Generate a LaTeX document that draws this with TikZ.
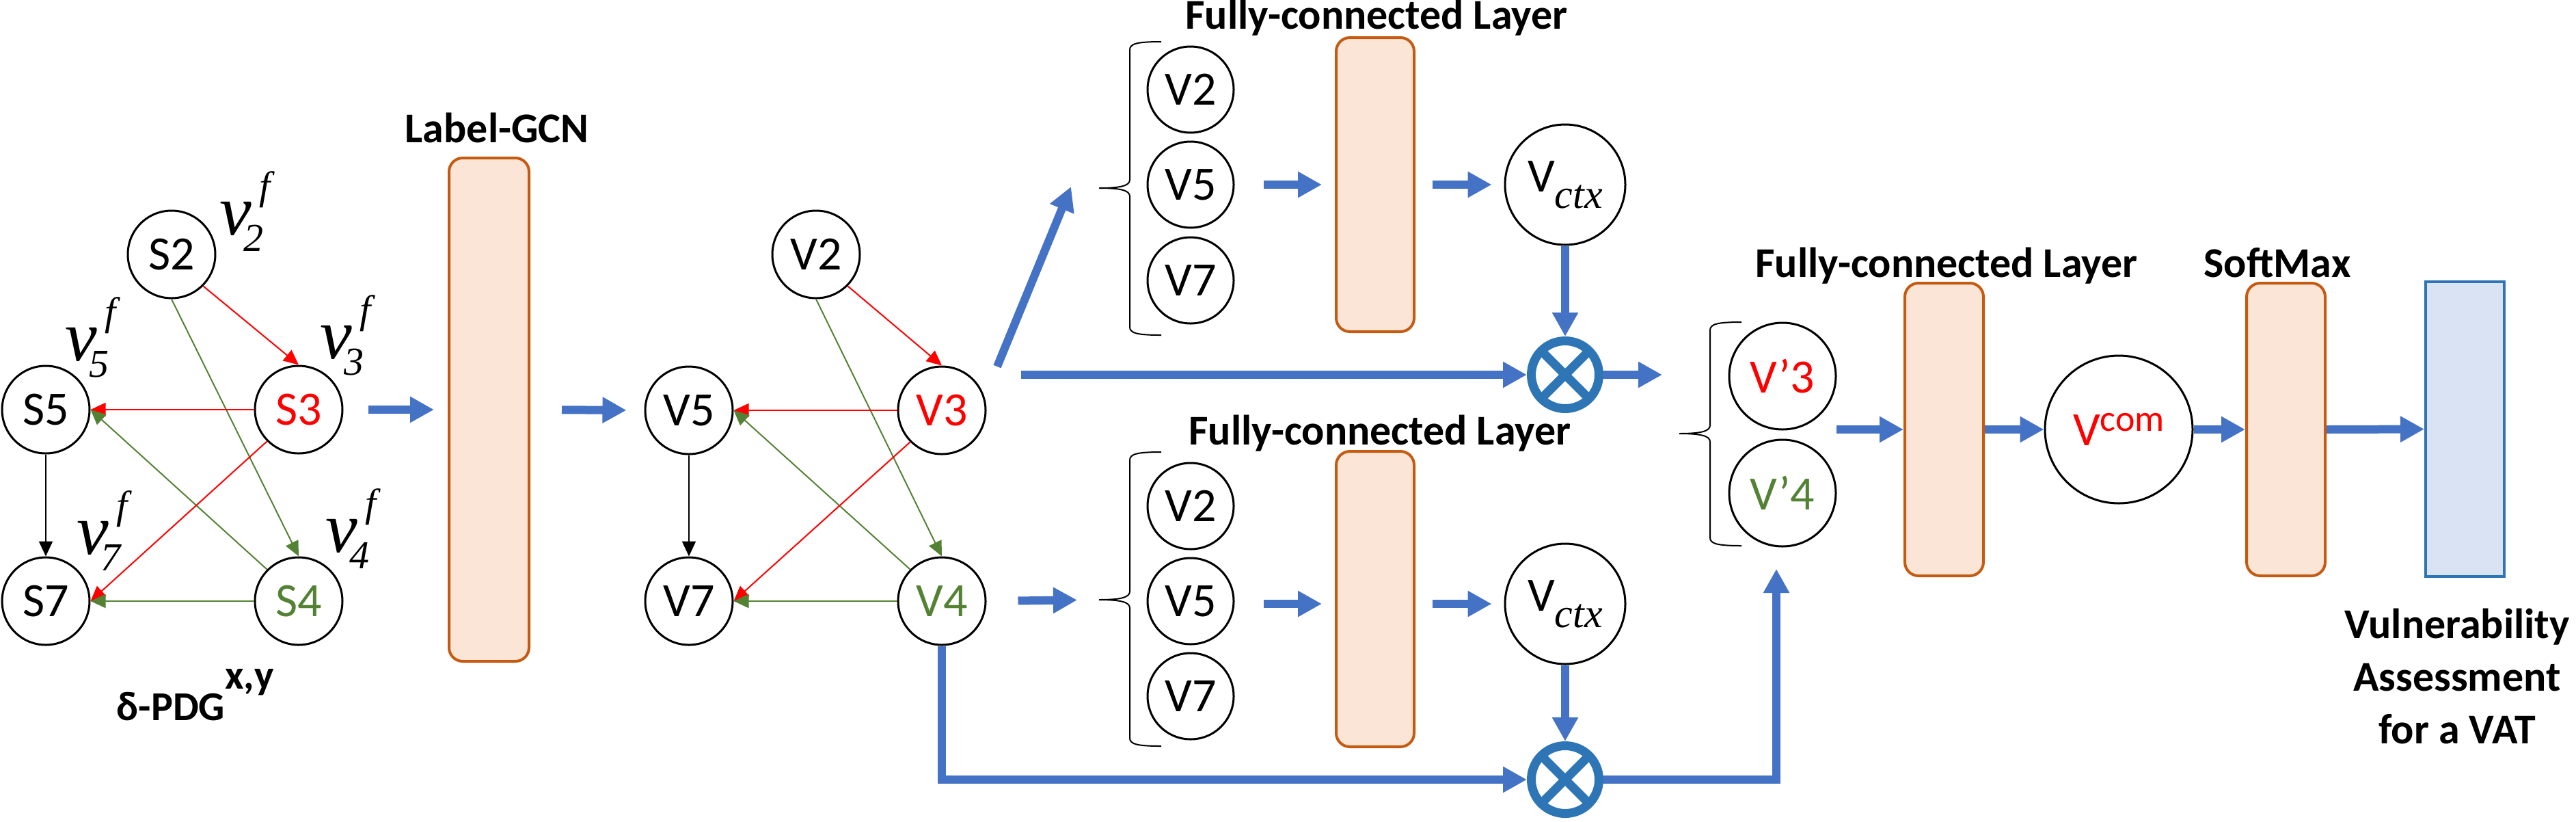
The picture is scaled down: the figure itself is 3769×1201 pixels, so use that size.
\documentclass[tikz,border=0pt]{standalone}
\usepackage{fontspec}
\setmainfont{Carlito}
\newfontfamily\tnr{Liberation Serif}
\usetikzlibrary{arrows.meta}
\definecolor{bluearr}{HTML}{4472C4}
\definecolor{oxblue}{HTML}{2E75B6}
\definecolor{peach}{HTML}{FBE5D6}
\definecolor{peachline}{HTML}{C55A11}
\definecolor{lightblue}{HTML}{DAE3F3}
\definecolor{mygreen}{HTML}{548235}
\definecolor{myred}{HTML}{FF0000}
\newcommand\vlab[1]{{\tnr\itshape\fontsize{26.25}{26.25}\selectfont v}\kern-2.9pt\rlap{\raisebox{-6pt}{\tnr\itshape\fontsize{14.5}{14.5}\selectfont #1}}\kern5.75pt\raisebox{13pt}{\tnr\itshape\fontsize{14.5}{14.5}\selectfont f}}
\newcommand\mybrace[5]{% name, tipx, tipy, top, bottom
  \coordinate (#1) at (#2,#3);
  \draw[bracestyle] ({#2+91},#4) .. controls ({#2+55},#4) and ({#2+45},{#4+3}) .. ({#2+45},{#4+12})
    -- ({#2+45},{#3-12}) .. controls ({#2+45},{#3-3}) and ({#2+30},#3) .. (#1)
    .. controls ({#2+30},#3) and ({#2+45},{#3+3}) .. ({#2+45},{#3+12})
    -- ({#2+45},{#5-12}) .. controls ({#2+45},{#5-3}) and ({#2+55},#5) .. ({#2+91},#5);}
\tikzset{
  gnode/.style={circle, draw, line width=0.75pt, minimum size=32pt, inner sep=0pt, font=\fontsize{17.5}{17.5}\selectfont},
  snode/.style={gnode, minimum size=31.5pt},
  fcbox/.style={draw=peachline, fill=peach, line width=1pt, rounded corners=5pt, inner sep=0pt},
  barrow/.style={draw=bluearr, line width=3pt, -{Triangle[length=8.75pt,width=9pt]}},
  gedge/.style={line width=0.5pt, -{Triangle[length=5.5pt,width=5pt]}},
  title/.style={font=\bfseries\fontsize{15.5}{15.5}\selectfont, inner sep=0pt, anchor=base},
  otimesnode/.style={circle, draw=oxblue, line width=3.25pt, minimum size=24.75pt, inner sep=0pt,
    path picture={\draw[oxblue, line width=3.25pt] (path picture bounding box.north west) -- (path picture bounding box.south east) (path picture bounding box.north east) -- (path picture bounding box.south west);}},
  bracestyle/.style={line width=0.5pt},
}
\begin{document}
\begin{tikzpicture}[x=0.25pt, y=-0.25pt]
\useasboundingbox (0,0) rectangle (3769,1201);

% ---- graph 1
\node[gnode] (S2) at (251,372) {S2};
\node[gnode] (S5) at (67,599) {S5};
\node[gnode, text=myred] (S3) at (437,599) {S3};
\node[gnode] (S7) at (67,879) {S7};
\node[gnode, text=mygreen] (S4) at (437,879) {S4};
\draw[gedge, myred] (S2.south east) -- (S3.north);
\draw[gedge, mygreen] (S2.south) -- (S4.north);
\draw[gedge, myred] (S3.west) -- (S5.east);
\draw[gedge, mygreen] (S4.north west) -- (S5.east);
\draw[gedge, myred] (S3.south west) -- (S7.east);
\draw[gedge, mygreen] (S4.west) -- (S7.east);
\draw[gedge] (S5.south) -- (S7.north);
\node[anchor=base west, inner sep=0pt] (l2) at (321,343) {\vlab{2}};
\node[anchor=base west, inner sep=0pt] (l5) at (95,527) {\vlab{5}};
\node[anchor=base west, inner sep=0pt] (l3) at (468,524) {\vlab{3}};
\node[anchor=base west, inner sep=0pt] (l7) at (112,810) {\vlab{7}};
\node[anchor=base west, inner sep=0pt] (l4) at (476,807) {\vlab{4}};
\node[title, anchor=base west, font=\bfseries\fontsize{15}{15}\selectfont] (tpdg) at (170,1053) {δ-PDG\raisebox{11.5pt}{x,y}};

% ---- Label-GCN
\node[fcbox, minimum width=29.25pt, minimum height=184pt] (gcn) at (715.5,599) {};
\node[title] (tgcn) at (727,208) {Label-GCN};

% ---- graph 2
\node[gnode] (G2) at (1194,372) {V2};
\node[gnode] (G5) at (1008,600) {V5};
\node[gnode, text=myred] (G3) at (1378,600) {V3};
\node[gnode] (G7) at (1008,879) {V7};
\node[gnode, text=mygreen] (G4) at (1378,879) {V4};
\draw[gedge, myred] (G2.south east) -- (G3.north);
\draw[gedge, mygreen] (G2.south) -- (G4.north);
\draw[gedge, myred] (G3.west) -- (G5.east);
\draw[gedge, mygreen] (G4.north west) -- (G5.east);
\draw[gedge, myred] (G3.south west) -- (G7.east);
\draw[gedge, mygreen] (G4.west) -- (G7.east);
\draw[gedge] (G5.south) -- (G7.north);

% ---- upper branch
\mybrace{ubt}{1608}{275}{61}{490}
\node[snode] (A2) at (1742,131) {V2};
\node[snode] (A5) at (1742,270) {V5};
\node[snode] (A7) at (1742,410) {V7};
\node[fcbox, minimum width=28.5pt, minimum height=107.5pt] (fcu) at (2012,270) {};
\node[title] (tfc1) at (2014,42) {Fully-connected Layer};
\node[gnode, minimum size=44pt] (cu) at (2290,270) {V\raisebox{-6pt}{\tnr\itshape\fontsize{15}{15}\selectfont ctx}};
\node[otimesnode] (ou) at (2290,548) {};

% ---- lower branch
\mybrace{lbt}{1608}{877}{661}{1091}
\node[snode] (B2) at (1742,740) {V2};
\node[snode] (B5) at (1742,879) {V5};
\node[snode] (B7) at (1742,1018) {V7};
\node[fcbox, minimum width=28.5pt, minimum height=108pt] (fcl) at (2012,876) {};
\node[title] (tfc2) at (2019,650) {Fully-connected Layer};
\node[gnode, minimum size=44pt] (cl) at (2290,883) {V\raisebox{-6pt}{\tnr\itshape\fontsize{15}{15}\selectfont ctx}};
\node[otimesnode] (ol) at (2290,1140) {};

% ---- right part
\mybrace{rbt}{2457}{634}{471}{798}
\node[gnode, minimum size=39pt, text=myred] (R3) at (2608,550) {V’3};
\node[gnode, minimum size=39pt, text=mygreen] (R4) at (2608,721) {V’4};
\node[fcbox, minimum width=28.75pt, minimum height=107pt] (fc3) at (2844.5,628) {};
\node[title] (tfc3) at (2848,405) {Fully-connected Layer};
\node[gnode, minimum size=54pt, text=myred] (vcom) at (3100,628) {V\raisebox{5.25pt}{\fontsize{13.5}{13.5}\selectfont com}};
\node[fcbox, minimum width=28.75pt, minimum height=107pt] (sm) at (3344.5,628) {};
\node[title] (tsm) at (3332,405) {SoftMax};
\node[draw=oxblue, fill=lightblue, line width=1pt, minimum width=28.75pt, minimum height=107.75pt, inner sep=0pt] (bb) at (3606.5,627.5) {};
\node[title, align=center, font=\bfseries\fontsize{15.5}{19.25}\selectfont] (tva) at (3595,1087) {Vulnerability\\Assessment\\for a VAT};

% ---- blue arrows
\coordinate (ua1) at (1459,536);
\coordinate (ua2) at (1567,273);
\coordinate (ha) at (1494,548);
\coordinate (ra) at (2432,548);
\coordinate (ua4) at (2599,832);
\coordinate (rg) at (2687,628);
\draw[barrow, shorten <=9pt, shorten >=5pt] (S3.east) -- (gcn.west);
\draw[barrow, shorten <=11.5pt, shorten >=6.5pt] (gcn.east) -- (G5.west);
\draw[barrow] (ua1) -- (ua2);
\draw[barrow] (ha) -- (ou.west);
\draw[barrow, shorten <=11.5pt, shorten >=8pt] (G4.east) -- (lbt);
\draw[barrow, shorten <=10.5pt, shorten >=4.75pt] (A5.east) -- (fcu.west);
\draw[barrow, shorten <=6.25pt, shorten >=4.5pt] (fcu.east) -- (cu.west);
\draw[barrow] (cu.south) -- (ou.north);
\draw[barrow] (ou.east) -- (ra);
\draw[barrow, shorten <=10.5pt, shorten >=4.75pt] (B5.east |- cl) -- (fcl.west |- cl);
\draw[barrow, shorten <=6.25pt, shorten >=4.5pt] (fcl.east |- cl) -- (cl.west);
\draw[barrow] (cl.south) -- (ol.north);
\draw[barrow] (G4.south) |- (ol.west);
\draw[barrow] (ol.east) -| (ua4);
\draw[barrow] (rg) -- (fc3.west);
\draw[barrow] (fc3.east) -- (vcom.west);
\draw[barrow] (vcom.east) -- (sm.west);
\draw[barrow] (sm.east) -- (bb.west);
\end{tikzpicture}
\end{document}
